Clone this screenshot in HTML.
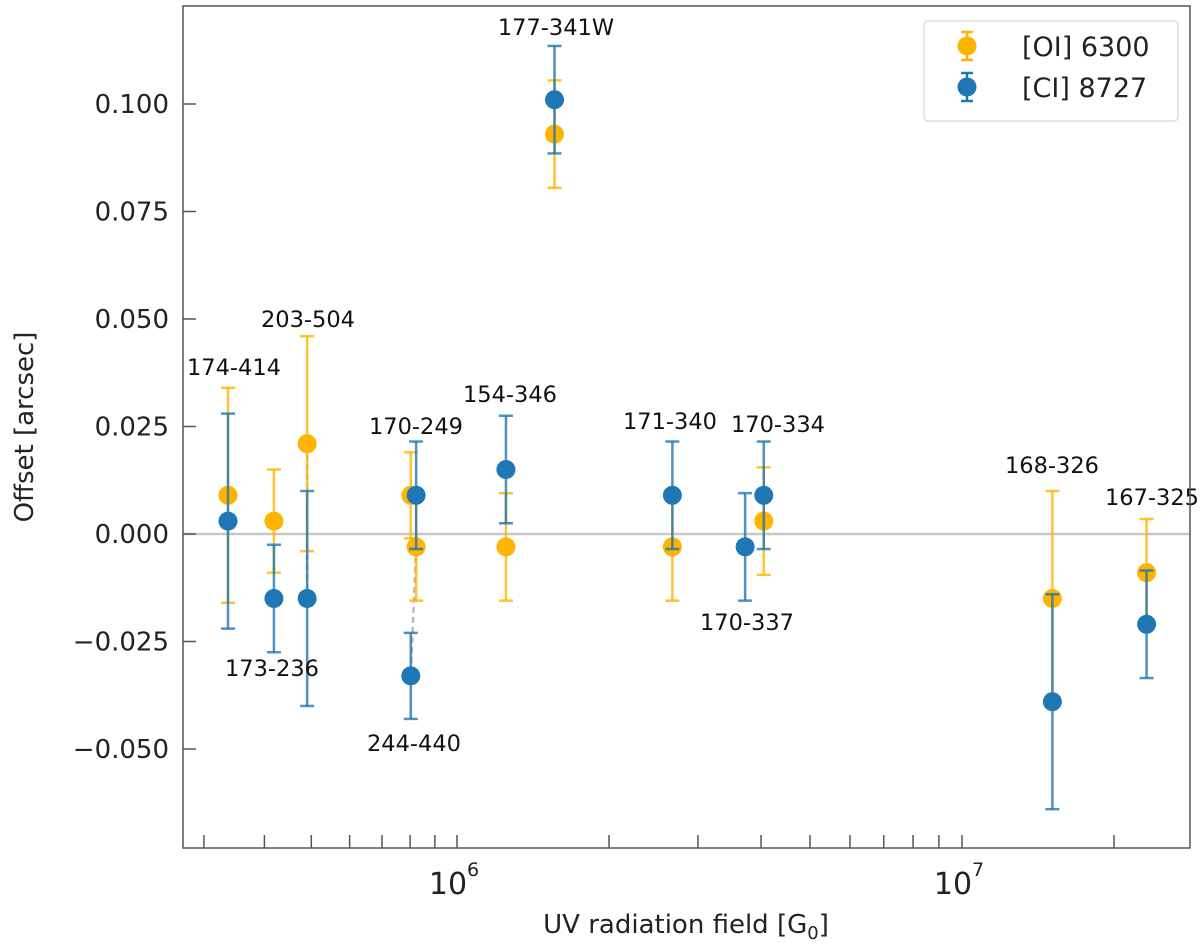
<!DOCTYPE html>
<html><head><meta charset="utf-8"><style>
body{margin:0;background:#fff;}
svg text{font-family:"DejaVu Sans","Liberation Sans",sans-serif;}
</style></head><body>
<svg id="chart" width="1200" height="947" xmlns="http://www.w3.org/2000/svg">
<g id="grid"></g><g id="marks"></g><g id="axes"></g>
</svg>
<script>
const names=["174-414","173-236","203-504","170-249","244-440","154-346","177-341W","171-340","170-337","170-334","168-326","167-325"];
const oiX=[3.52e5,4.34e5,5.05e5,8.1e5,8.3e5,1.25e6,1.56e6,2.67e6,null,4.05e6,1.51e7,2.32e7];
const oiY=[0.009,0.003,0.021,0.009,-0.003,-0.003,0.093,-0.003,null,0.003,-0.015,-0.009];
const oiErr=[0.025,0.012,0.025,0.010,0.0125,0.0125,0.0125,0.0125,null,0.0125,0.025,0.0125];
const ciX=[3.52e5,4.34e5,5.05e5,8.3e5,8.1e5,1.25e6,1.56e6,2.67e6,3.72e6,4.05e6,1.51e7,2.32e7];
const ciY=[0.003,-0.015,-0.015,0.009,-0.033,0.015,0.101,0.009,-0.003,0.009,-0.039,-0.021];
const ciErr=[0.025,0.0125,0.025,0.0125,0.010,0.0125,0.0125,0.0125,0.0125,0.0125,0.025,0.0125];
const yTicks=[0.100,0.075,0.050,0.025,0.000,-0.025,-0.050];
const yTickLabels=["0.100","0.075","0.050","0.025","0.000","\u22120.025","\u22120.050"];
const labelPos=[[234,375],[272,676],[308,327],[416,434],[414,751],[510,402],[556,35],[670,429],[747,630],[778,432],[1052,473],[1152,505]];

const NS="http://www.w3.org/2000/svg";
const L=183,R=1190,T=6,B=848;
const xs=v=>457+(Math.log10(v)-6)*505;
const xsTick=v=>Math.log10(v)<6?457+(Math.log10(v)-6)*484:xs(v);
const ys=v=>534-v*4300;
function mk(tag,attrs,parent){const e=document.createElementNS(NS,tag);for(const k in attrs)e.setAttribute(k,attrs[k]);parent.appendChild(e);return e;}
const grid=document.getElementById('grid'),marks=document.getElementById('marks'),axes=document.getElementById('axes');
let zl=mk('line',{x1:L,x2:R,y1:ys(0),y2:ys(0),stroke:'#c8c8c8','stroke-width':2.5},grid);


[2,4].forEach(i=>{
 let d=mk('line',{x1:oiX[i]?xs(oiX[i]):xs(ciX[i]),x2:xs(ciX[i]),y1:ys(oiY[i]),y2:ys(ciY[i]),stroke:'#bbb','stroke-width':2.5,'stroke-dasharray':'6,4'},marks);
 
 
});
function series(X,Y,E,col,nm){
 for(let i=0;i<X.length;i++){ if(X[i]==null)continue;
  const g=mk('g',{},marks);
  
  
  const x=xs(X[i]),y=ys(Y[i]),y1=ys(Y[i]+E[i]),y2=ys(Y[i]-E[i]);
  mk('line',{x1:x,x2:x,y1:y1,y2:y2,stroke:col,'stroke-width':2.5,'stroke-opacity':0.8},g);
  mk('line',{x1:x-7,x2:x+7,y1:y1,y2:y1,stroke:col,'stroke-width':2.5,'stroke-opacity':0.8},g);
  mk('line',{x1:x-7,x2:x+7,y1:y2,y2:y2,stroke:col,'stroke-width':2.5,'stroke-opacity':0.8},g);
  mk('circle',{cx:x,cy:y,r:9.5,fill:col},g);
 }
}
series(oiX,oiY,oiErr,'#FFB400','oi');
series(ciX,ciY,ciErr,'#1f77b4','ci');
names.forEach((n,i)=>{const t=mk('text',{x:labelPos[i][0],y:labelPos[i][1],'font-size':22.5,'text-anchor':'middle',fill:'#111'},marks);t.textContent=n;
 
 });
let fr=mk('rect',{x:L,y:T,width:R-L,height:B-T,fill:'none',stroke:'#555','stroke-width':1.5},axes);


yTicks.forEach((v,i)=>{const y=ys(v);mk('line',{x1:L,x2:L+13,y1:y,y2:y,stroke:'#555','stroke-width':1.5},axes);
 const t=mk('text',{x:L-14,y:y+9,'font-size':26,'text-anchor':'end',fill:'#222'},axes);t.textContent=yTickLabels[i];
 
 });
for(let e=5;e<=7;e++)for(let m=1;m<10;m++){const v=m*Math.pow(10,e);const x=xsTick(v);if(x<L+5||x>R-5)continue;
 const major=m===1;mk('line',{x1:x,x2:x,y1:B,y2:B-13,stroke:'#555','stroke-width':1.5},axes);
 if(major){
  const t=mk('text',{x:x-9,y:B+46,'font-size':30,'text-anchor':'middle',fill:'#222'},axes);t.textContent='10';
  
  
  mk('text',{x:x+16,y:B+28,'font-size':19,'text-anchor':'middle',fill:'#222'},axes).textContent=String(e);}}
let xt=mk('text',{x:686,y:933,'font-size':26,'text-anchor':'middle',fill:'#222'},axes);
xt.innerHTML='UV radiation field [G<tspan font-size="18" dy="6">0</tspan><tspan dy="-6">]</tspan>';


let yt=mk('text',{x:0,y:0,'font-size':26,'text-anchor':'middle',fill:'#222',transform:'translate(33,427) rotate(-90)'},axes);
yt.textContent='Offset [arcsec]';


const lg=mk('g',{},axes);


mk('rect',{x:924,y:21,width:254,height:100,rx:4,fill:'#fff',stroke:'#ddd','stroke-width':1.5},lg);
[['#FFB400','[OI] 6300',46],['#1f77b4','[CI] 8727',87]].forEach(([c,n,y])=>{
 const e=mk('g',{},lg);
 
 
 mk('line',{x1:967,x2:967,y1:y-14,y2:y+14,stroke:c,'stroke-width':2.5},e);
 mk('line',{x1:961,x2:973,y1:y-14,y2:y-14,stroke:c,'stroke-width':2.5},e);
 mk('line',{x1:961,x2:973,y1:y+14,y2:y+14,stroke:c,'stroke-width':2.5},e);
 mk('circle',{cx:967,cy:y,r:9.5,fill:c},e);
 const t=mk('text',{x:1022,y:y+10,'font-size':27,fill:'#222'},e);t.textContent=n;});
</script>
</body></html>
